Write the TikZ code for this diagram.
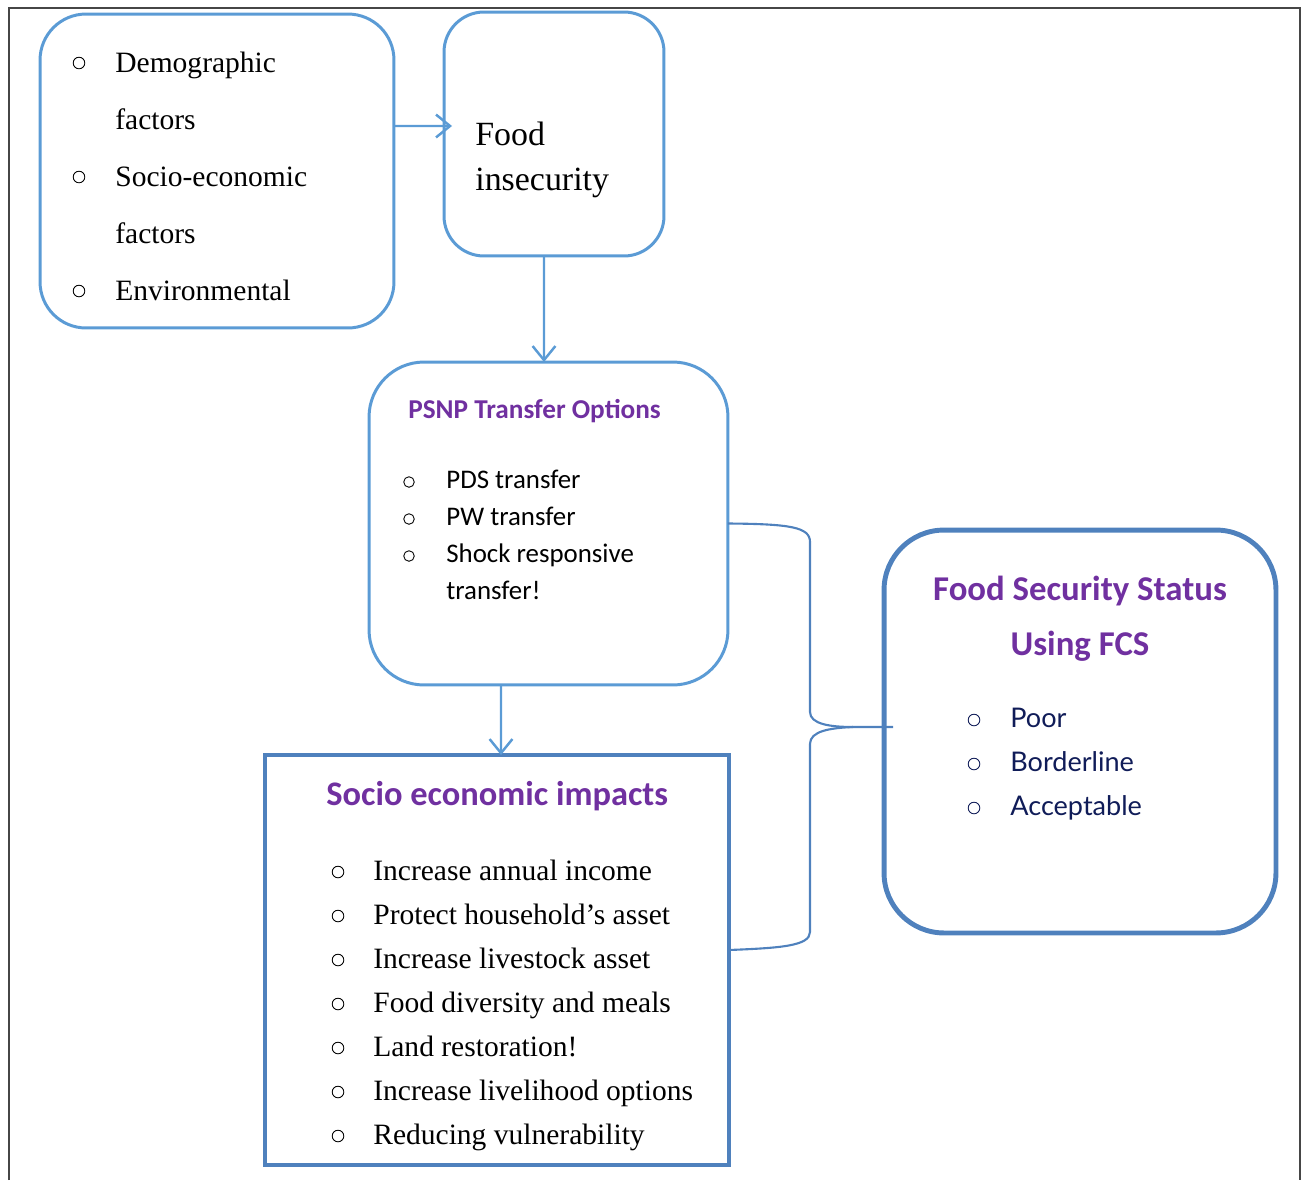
\documentclass[tikz,border=0pt]{standalone}
\usepackage{fontspec}
\setmainfont{Liberation Serif}
\newfontfamily\carlito{Carlito}
\newfontfamily\latofam{Lato}
\usetikzlibrary{arrows.meta}
\definecolor{lblue}{RGB}{91,155,213}
\definecolor{dblue}{RGB}{79,129,189}
\definecolor{ttlpurple}{RGB}{112,48,160}
\definecolor{navytxt}{RGB}{16,28,88}
\definecolor{framegray}{RGB}{70,70,70}

\tikzset{
  rbox/.style={draw=lblue, line width=1.7pt, outer sep=0pt},
  sqbox/.style={draw=dblue, line width=2.3pt, outer sep=0pt},
  fbox/.style={draw=dblue, line width=2.8pt, outer sep=0pt, rounded corners=1.2cm},
  arr/.style={draw=lblue, line width=1.4pt, -{Straight Barb[length=8pt,width=13pt]}},
  brace/.style={draw=dblue, line width=1.2pt},
  bul/.style={draw=black, line width=0.5pt},
  txt/.style={anchor=base west, inner sep=0pt},
}

\begin{document}
\begin{tikzpicture}[x=0.02cm, y=-0.02cm]
  \useasboundingbox (0,0) rectangle (1305,1180);
  % frame
  \draw[framegray, line width=0.9pt] (9,1180) -- (9,8) -- (1300,8) -- (1300,1180);

  % boxes
  \node[rbox, rounded corners=0.92cm, minimum width=7.08cm, minimum height=6.28cm] (factors) at (217,171) {};
  \node[rbox, rounded corners=0.8cm, minimum width=4.4cm, minimum height=4.88cm] (insecurity) at (554,134) {};
  \node[rbox, rounded corners=1.1cm, minimum width=7.18cm, minimum height=6.46cm] (psnp) at (548.5,523.5) {};
  \node[sqbox, minimum width=9.28cm, minimum height=8.2cm] (impacts) at (497,960) {};
  \node[fbox, minimum width=7.84cm, minimum height=8.06cm] (fcs) at (1080,731.5) {};

  % factors
  \foreach \txt [count=\i] in {Demographic,factors,Socio-economic,factors,Environmental}
    \node[txt, font=\fontsize{16.8}{20}\selectfont] (fac\i) at (115,{15+57*\i}) {\txt};
  \foreach \i in {1,3,5}
    \draw[bul] (79,{6+57*\i}) circle (3.3pt);

  % food insecurity
  \node[txt, font=\fontsize{19.3}{24}\selectfont] (food) at (475,145) {Food};
  \node[txt, font=\fontsize{19.3}{24}\selectfont] (insec) at (475,190) {insecurity};

  % transfer options
  \node[txt, font=\carlito\bfseries\fontsize{15.5}{18}\selectfont, text=ttlpurple] (psnptitle) at (408,418) {PSNP Transfer Options};
  \foreach \txt [count=\i] in {PDS transfer,PW transfer,Shock responsive,transfer!}
    \node[txt, font=\carlito\fontsize{15.3}{18}\selectfont] (opt\i) at (446,{451+37*\i}) {\txt};
  \foreach \i in {1,2,3}
    \draw[bul] (409,{445+37*\i}) circle (3pt);

  % impacts
  \node[txt, font=\carlito\bfseries\fontsize{19.6}{24}\selectfont, text=ttlpurple] (imptitle) at (326,805) {Socio economic impacts};
  \foreach \txt [count=\i] in {Increase annual income,Protect household’s asset,Increase livestock asset,Food diversity and meals,Land restoration!,Increase livelihood options,Reducing vulnerability}
    \node[txt, font=\fontsize{16.8}{20}\selectfont] (imp\i) at (373,{836+44*\i}) {\txt};
  \foreach \i in {1,...,7}
    \draw[bul] (338,{828+44*\i}) circle (3.3pt);

  % food security status
  \node[anchor=base, inner sep=0pt, font=\carlito\bfseries\fontsize{19.8}{24}\selectfont, text=ttlpurple] (fcstitle) at (1080,600) {Food Security Status};
  \node[anchor=base, inner sep=0pt, font=\carlito\bfseries\fontsize{19.8}{24}\selectfont, text=ttlpurple] (fcstitleb) at (1080,655) {Using FCS};
  \foreach \txt [count=\i] in {Poor,Borderline,Acceptable}
    \node[txt, font=\latofam\fontsize{15.4}{18}\selectfont, text=navytxt] (st\i) at (1010,{683+44*\i}) {\txt};
  \foreach \i in {1,2,3}
    \draw[bul, draw=navytxt] (974,{676+44*\i}) circle (3.3pt);

  % connectors
  \draw[arr] ([yshift=0.9cm]factors.east) -- ([xshift=0.16cm,yshift=0.16cm]insecurity.west);
  \draw[arr] ([xshift=-0.2cm]insecurity.south) -- ([xshift=-0.09cm]psnp.north);
  \draw[arr] ([xshift=-0.95cm]psnp.south) -- ([xshift=0.08cm]impacts.north);

  % brace
  \coordinate (tip) at (893,727);
  \draw[brace] (psnp.east) .. controls (790,524) and (810,527) .. (810,542) -- (810,712)
    .. controls (810,724) and (830,727) .. (853,727) -- (tip);
  \draw[brace] (853,727) .. controls (830,728) and (810,731) .. (810,744) -- (810,932)
    .. controls (810,946) and (780,948) .. ([yshift=0.2cm]impacts.east);
\end{tikzpicture}
\end{document}
